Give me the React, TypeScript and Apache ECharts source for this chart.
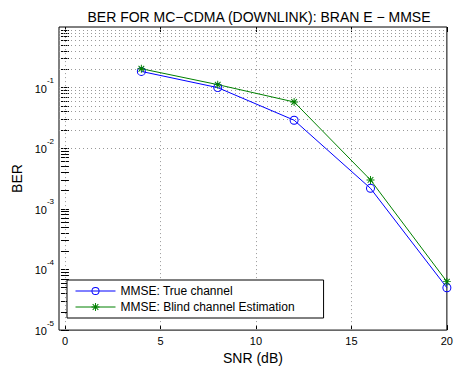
import React, { useEffect, useRef } from 'react';
import * as echarts from 'echarts';

const snr = [4, 8, 12, 16, 20];
const berTrue = [0.185, 0.1, 0.029, 0.00218, 5.0e-5];
const berBlind = [0.205, 0.112, 0.058, 0.003, 6.3e-5];
const xTicks = [0, 5, 10, 15, 20];
const decades = [1e-5, 1e-4, 1e-3, 1e-2, 1e-1];
const multipliers = [1, 2, 3, 4, 5, 6, 7, 8, 9];

const FONT = '"Liberation Sans", Arial, Helvetica, sans-serif';
const STAR =
  'path://M-5,-0.6L5,-0.6L5,0.6L-5,0.6Z' +
  'M-0.6,-5L0.6,-5L0.6,5L-0.6,5Z' +
  'M-3.12,-3.96L3.96,3.12L3.12,3.96L-3.96,-3.12Z' +
  'M-3.96,3.12L3.12,-3.96L3.96,-3.12L-3.12,3.96Z';
const RING =
  'path://M0,-5A5,5 0 1,1 0,5A5,5 0 1,1 0,-5Z' +
  'M0,-3.9A3.9,3.9 0 1,0 0,3.9A3.9,3.9 0 1,0 0,-3.9Z';

export default function App() {
  const ref = useRef<HTMLDivElement>(null);
  useEffect(() => {
    if (!ref.current) return;
    const chart = echarts.init(ref.current, undefined, { renderer: 'svg' });
    const yGrid: number[] = [];
    decades.forEach((d) => multipliers.forEach((m) => yGrid.push(parseFloat((d * m).toPrecision(6)))));
    const yGridInner = yGrid.filter((v) => v > 1e-5 && v < 1);
    const gridLines: any[] = [
      ...yGridInner.map((v) => ({ yAxis: v })),
      ...xTicks.filter((v) => v < 20).map((v) => ({ xAxis: v })),
    ];
    const xCommon = {
      type: 'value',
      min: -0.3125,
      max: 20,
      axisLine: { show: false },
      splitLine: { show: false },
    };
    const yCommon = {
      type: 'log',
      logBase: 10,
      min: 1e-5,
      max: 1,
      axisLine: { show: false },
      splitLine: { show: false },
    };
    chart.setOption({
      animation: false,
      textStyle: { fontFamily: FONT },
      title: {
        text: 'BER FOR MC\u2212CDMA (DOWNLINK): BRAN E \u2212 MMSE',
        left: 254,
        top: 5,
        textAlign: 'center',
        textStyle: { fontSize: 14, fontWeight: 'normal', color: '#000', fontFamily: FONT },
      },
      grid: {
        left: 59,
        right: 7,
        top: 27,
        bottom: 37,
        show: true,
        borderColor: '#000',
        borderWidth: 1,
        backgroundColor: '#fff',
      },
      legend: {
        orient: 'vertical',
        left: 67,
        top: 280,
        itemWidth: 40,
        itemHeight: 10,
        itemGap: 4,
        padding: [5, 29, 5, 8],
        borderColor: '#000',
        borderWidth: 1,
        backgroundColor: '#fff',
        lineStyle: { width: 1 },
        textStyle: { fontSize: 12, color: '#000', fontFamily: FONT },
        data: ['MMSE: True channel', 'MMSE: Blind channel Estimation'],
      },
      xAxis: [
        {
          ...xCommon,
          position: 'bottom',
          name: 'SNR (dB)',
          nameLocation: 'middle',
          nameGap: 20,
          nameTextStyle: { fontSize: 14, color: '#000', fontFamily: FONT },
          axisTick: { show: true, inside: true, length: 5, customValues: xTicks, lineStyle: { color: '#000' } },
          axisLabel: { customValues: xTicks, fontSize: 11, color: '#000', margin: 5, fontFamily: FONT },
        },
        {
          ...xCommon,
          position: 'top',
          axisTick: { show: true, inside: true, length: 5, customValues: xTicks, lineStyle: { color: '#000' } },
          axisLabel: { show: false },
        },
      ],
      yAxis: [
        {
          ...yCommon,
          position: 'left',
          name: 'BER',
          nameLocation: 'middle',
          nameGap: 32,
          nameTextStyle: { fontSize: 14, color: '#000', fontFamily: FONT },
          axisTick: { show: true, inside: true, length: 4, customValues: yGrid, lineStyle: { color: '#000' } },
          axisLabel: {
            margin: 5,
            formatter: (v: number) => {
              if (v >= 1) return '';
              const e = Math.round(Math.log10(v));
              return '{b|10}{s|' + e + '}';
            },
            rich: {
              b: { fontSize: 11, lineHeight: 11, color: '#000', fontFamily: FONT, verticalAlign: 'middle', padding: [2, 0, 0, 0] },
              s: { fontSize: 8, lineHeight: 8, color: '#000', fontFamily: FONT, padding: [0, 0, 14, 0], verticalAlign: 'middle' },
            },
          },
        },
        {
          ...yCommon,
          position: 'right',
          axisTick: { show: true, inside: true, length: 4, customValues: yGrid, lineStyle: { color: '#000' } },
          axisLabel: { show: false },
        },
      ],
      series: [
        {
          name: 'MMSE: True channel',
          type: 'line',
          xAxisIndex: 0,
          yAxisIndex: 0,
          data: snr.map((x, i) => [x, berTrue[i]]),
          symbol: RING,
          symbolSize: 9,
          color: '#0000ff',
          lineStyle: { color: '#0000ff', width: 1 },
          itemStyle: { color: '#0000ff', borderWidth: 0 },
          z: 3,
          markLine: {
            silent: true,
            symbol: ['none', 'none'],
            label: { show: false },
            lineStyle: { color: '#999', type: [1, 3], width: 1 },
            emphasis: { disabled: true },
            z: 1,
            data: gridLines,
          },
        },
        {
          name: 'MMSE: Blind channel Estimation',
          type: 'line',
          xAxisIndex: 0,
          yAxisIndex: 0,
          data: snr.map((x, i) => [x, berBlind[i]]),
          symbol: STAR,
          symbolSize: 8,
          color: '#008000',
          lineStyle: { color: '#008000', width: 1 },
          itemStyle: { color: '#008000', borderWidth: 0 },
          z: 3,
        },
      ],
    });
    return () => chart.dispose();
  }, []);
  return (
    <div
      ref={ref}
      style={{ position: 'fixed', left: 0, top: 0, width: 456, height: 370, background: '#fff' }}
    />
  );
}
